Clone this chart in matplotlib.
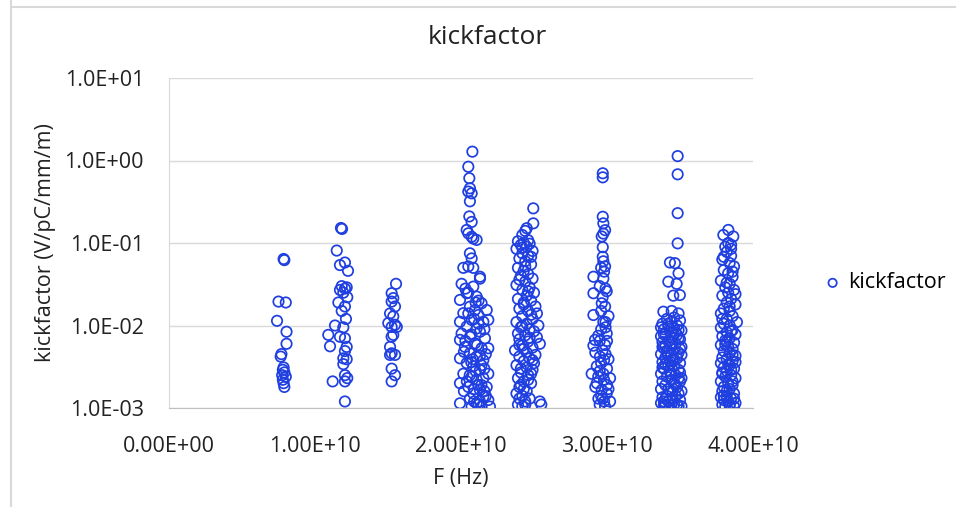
import matplotlib.pyplot as plt
from matplotlib.ticker import FuncFormatter
from matplotlib.lines import Line2D
import numpy as np

plt.rcParams['font.family'] = ['Open Sans', 'DejaVu Sans']

# frequency in GHz, kick factor in V/pC/mm/m, one pair of lists per cluster
f1 = [7.85, 7.9, 7.5, 8.0, 7.4, 8.05, 8.05, 7.7, 7.65, 7.85, 7.8, 7.9, 7.75, 8.0, 7.8, 7.85, 7.9]
k1 = [0.064, 0.062, 0.0195, 0.019, 0.0114, 0.0084, 0.006, 0.0045, 0.0042, 0.0031, 0.0029,
      0.0027, 0.0025, 0.0024, 0.0022, 0.002, 0.0018]

f2 = [11.49, 11.78, 11.85, 11.71, 12.05, 12.26, 11.83, 12.05, 11.71, 11.94, 12.17, 12.21,
      11.6, 12.05, 11.83, 12.12, 11.37, 11.94, 10.91, 11.71, 11.03, 12.05, 12.17, 12.05,
      11.94, 12.17, 11.94, 12.05, 12.21, 11.21, 12.05, 12.05]
k2 = [0.081, 0.152, 0.148, 0.054, 0.058, 0.046, 0.03, 0.028, 0.027, 0.025, 0.029, 0.022,
      0.019, 0.017, 0.015, 0.012, 0.01, 0.0095, 0.0077, 0.0073, 0.0056, 0.007, 0.0055, 0.0049,
      0.004, 0.0039, 0.0034, 0.0025, 0.0023, 0.0021, 0.0021, 0.0012]

f3 = [15.55, 15.25, 15.36, 15.25, 15.48, 15.14, 15.36, 15.02, 15.48, 15.25, 15.6, 15.36,
      15.25, 15.14, 15.25, 15.48, 15.14, 15.25, 15.48, 15.25]
k3 = [0.032, 0.0246, 0.0215, 0.0195, 0.017, 0.014, 0.0129, 0.0107, 0.0102, 0.0096, 0.0096,
      0.0077, 0.0073, 0.0055, 0.0046, 0.0044, 0.0044, 0.003, 0.0025, 0.0021]

f4 = [20.78, 20.5, 20.57, 20.61, 20.5, 20.73, 20.61, 20.57, 20.73, 20.39, 20.5, 20.73, 21.07,
      20.84, 20.61, 20.73, 20.5, 20.84, 21.3, 20.16,
      20.04, 21.3, 20.84, 20.39, 21.07, 19.93, 21.41, 20.61, 20.96, 20.16, 21.76, 21.19, 19.93,
      20.73, 21.53, 21.87, 20.39, 21.07, 20.04, 21.3, 20.61, 21.64, 19.93, 20.96, 20.27, 21.41,
      21.87, 20.61, 21.07, 19.93, 21.53, 20.39, 20.84, 21.3, 21.87, 20.16, 20.73, 21.53, 21.07,
      19.93, 20.5, 21.76, 21.3, 20.84, 21.53, 20.61, 21.87, 21.07, 21.41, 21.98, 19.93, 20.73,
      20.5, 21.2, 20.9, 21.6, 20.3, 21.1, 21.7, 20.7, 21.4, 21.0, 20.4, 21.2, 21.6, 20.9, 21.2,
      20.3, 21.0, 20.5, 21.2, 20.7, 20.2, 21.3, 20.8, 21.6, 20.6, 21.4, 20.9, 21.7, 21.3, 20.2]
k4 = [1.28, 0.84, 0.61, 0.46, 0.42, 0.40, 0.32, 0.21, 0.18, 0.144, 0.131, 0.119, 0.109,
      0.113, 0.075, 0.065, 0.052, 0.05, 0.039, 0.05,
      0.032, 0.037, 0.0296, 0.0246, 0.0224, 0.0204, 0.0186, 0.0169, 0.0154, 0.0141, 0.0154,
      0.0134, 0.0111, 0.0117, 0.0111, 0.0117, 0.0097, 0.0092, 0.008, 0.0084, 0.0073, 0.007,
      0.0067, 0.0061, 0.0055, 0.0053, 0.0053, 0.0046, 0.0042, 0.004, 0.0038, 0.0035, 0.0032,
      0.0029, 0.0026, 0.0026, 0.0024, 0.0023, 0.0022, 0.002, 0.0018, 0.0018, 0.00165, 0.0015,
      0.00137, 0.0013, 0.00125, 0.00114, 0.00104, 0.00104, 0.00114, 0.00104,
      0.025, 0.02, 0.012, 0.009, 0.0065, 0.0058, 0.0045, 0.0036, 0.0033, 0.0028, 0.0021,
      0.0019, 0.0016, 0.0012, 0.0011,
      0.028, 0.019, 0.014, 0.0105, 0.0078, 0.0048, 0.0043, 0.0039, 0.003, 0.0025, 0.0019,
      0.0017, 0.0014, 0.0012, 0.0016]

f5 = [24.95, 24.95, 24.5, 24.4, 24.2,
      23.9, 24.3, 24.7, 24.1, 24.5, 23.8, 24.9, 24.2, 24.6, 24.0, 24.4, 24.8, 23.9, 24.3, 24.6,
      24.1, 24.9, 24.4, 23.8, 24.7, 24.2, 25.0, 24.5, 23.9, 24.8, 24.3, 25.1, 24.0, 24.6, 25.2,
      24.2, 24.9, 23.8, 24.5, 25.3, 24.1, 24.7, 25.0, 23.9, 24.4, 25.2, 24.0, 24.6, 25.4, 24.2,
      24.9, 23.7, 24.5, 25.1, 24.0, 24.7, 24.3, 25.0, 23.8, 24.5, 24.9, 24.1, 24.6, 23.9, 24.3,
      24.8, 24.0, 24.5, 23.8, 24.2, 24.0, 24.4, 23.9, 24.2, 25.4, 25.5,
      24.6, 24.2, 24.8, 24.4, 24.0, 24.6, 24.3, 24.8, 24.2, 24.7, 24.3, 24.9, 24.1, 24.6, 24.3,
      24.7, 24.4, 24.1, 24.8, 24.0]
k5 = [0.263, 0.173, 0.151, 0.14, 0.125,
      0.105, 0.1, 0.098, 0.095, 0.09, 0.085, 0.08, 0.075, 0.07, 0.065, 0.06, 0.055, 0.05,
      0.046, 0.042, 0.04, 0.037, 0.034, 0.031, 0.029, 0.027, 0.025, 0.023, 0.021, 0.02, 0.018,
      0.017, 0.016, 0.015, 0.014, 0.013, 0.012, 0.011, 0.0105, 0.01, 0.0095, 0.009, 0.0085,
      0.008, 0.0076, 0.0072, 0.0068, 0.0064, 0.006, 0.0057, 0.0054, 0.005, 0.0047, 0.0044,
      0.0042, 0.004, 0.0037, 0.0035, 0.0033, 0.0031, 0.0029, 0.0027, 0.0025, 0.0023, 0.0021,
      0.002, 0.0018, 0.0016, 0.0015, 0.0014, 0.0013, 0.0012, 0.0011, 0.00105, 0.0012, 0.0011,
      0.108, 0.088, 0.068, 0.052, 0.036, 0.026, 0.019, 0.0135, 0.0098, 0.0071, 0.0052, 0.0038,
      0.003, 0.0022, 0.0017, 0.0013, 0.0011, 0.0019, 0.0026, 0.0058]

f6 = [29.71, 29.71, 29.71, 29.75, 29.87, 29.75, 29.64, 29.71, 29.71, 29.75, 29.87, 29.07,
      29.75, 29.07, 29.98, 29.64, 29.87, 29.07, 30.1, 29.75, 29.98, 29.18, 29.07, 29.87, 29.52,
      30.1, 28.95, 29.75, 30.21, 29.3, 29.64, 29.98, 29.41, 29.87, 30.21,
      29.6, 29.8, 29.5, 29.9, 29.7, 29.6, 29.9, 29.6, 29.4, 30.0, 29.7, 29.2, 29.9, 29.6, 29.3,
      30.0, 29.5, 29.8, 29.2, 30.1, 29.6, 29.8, 29.5,
      29.9, 29.5, 29.8, 29.4, 30.0, 29.7]
k6 = [0.70, 0.625, 0.208, 0.173, 0.143, 0.13, 0.12, 0.089, 0.068, 0.06, 0.052, 0.039, 0.037,
      0.0246, 0.026, 0.0186, 0.017, 0.0134, 0.013, 0.011, 0.008, 0.0067, 0.0057, 0.0058,
      0.0042, 0.0039, 0.0026, 0.0026, 0.0023, 0.002, 0.00166, 0.0015, 0.0013, 0.00104, 0.0012,
      0.05, 0.045, 0.03, 0.028, 0.022, 0.015, 0.0095, 0.009, 0.0075, 0.0065, 0.005, 0.0047,
      0.0045, 0.0035, 0.0032, 0.003, 0.0028, 0.0022, 0.0018, 0.0017, 0.0014, 0.0012, 0.0011,
      0.011, 0.0065, 0.0038, 0.0024, 0.0019, 0.0013]

f7 = [34.84, 34.84, 34.84, 34.84, 34.31, 34.65, 34.9, 34.2, 34.77, 34.99, 34.54, 33.86,
      34.43, 34.9,
      34.6, 34.1, 35.0, 34.4, 33.8, 34.8, 34.2, 34.6, 33.9, 35.1, 34.4, 34.0, 34.8, 33.7, 34.5,
      35.0, 34.2, 33.8, 34.7, 34.3, 35.1, 33.9, 34.6, 34.1, 34.9, 33.7, 34.4, 34.0, 34.8, 34.5,
      33.8, 35.0, 34.2, 34.6, 33.9, 34.9, 34.3, 33.7, 34.7, 34.1, 35.1, 34.4, 33.8, 34.6, 34.0,
      34.8, 33.7, 34.3, 34.9, 34.1, 33.8, 34.5, 35.0, 34.2, 33.7, 34.6, 34.0, 34.9, 34.3, 33.9,
      33.7, 34.9, 34.0, 35.1, 34.0, 35.0, 34.7, 35.1, 34.0, 34.8,
      34.2, 34.9, 33.9, 34.5, 35.0, 34.1, 34.6, 33.8, 34.4, 35.0, 34.2, 34.7, 33.9, 34.4, 35.1,
      34.5, 34.3, 34.7, 33.8, 34.9]
k7 = [1.13, 0.68, 0.23, 0.099, 0.058, 0.057, 0.043, 0.034, 0.032, 0.0234, 0.023, 0.0147,
      0.015, 0.014,
      0.0125, 0.012, 0.0115, 0.011, 0.0105, 0.01, 0.0097, 0.0093, 0.009, 0.0087, 0.0083,
      0.008, 0.0077, 0.0074, 0.0071, 0.0068, 0.0065, 0.0063, 0.006, 0.0058, 0.0055, 0.0053,
      0.0051, 0.0049, 0.0047, 0.0045, 0.0043, 0.0041, 0.004, 0.0038, 0.0036, 0.0035, 0.0033,
      0.0032, 0.003, 0.0029, 0.0028, 0.0026, 0.0025, 0.0024, 0.0023, 0.0022, 0.0021, 0.002,
      0.0019, 0.0018, 0.0017, 0.0016, 0.0015, 0.0014, 0.00135, 0.0013, 0.00125, 0.0012,
      0.00115, 0.0011, 0.00107, 0.00104, 0.00102, 0.0011,
      0.0095, 0.007, 0.0056, 0.0044, 0.0034, 0.0027, 0.0019, 0.0016, 0.0013, 0.0011,
      0.0105, 0.0088, 0.0078, 0.0062, 0.0052, 0.0046, 0.0039, 0.0031, 0.0026, 0.0021, 0.0017,
      0.0014, 0.0012, 0.0011, 0.00105, 0.0016, 0.0037, 0.0082, 0.0055, 0.0023]

f8 = [38.31, 37.97, 38.65, 38.3, 38.1, 38.5,
      38.2, 38.5, 37.9, 38.4, 38.7, 38.0, 38.3, 38.6, 37.8, 38.4, 38.1, 38.7, 38.3, 37.9, 38.5,
      38.2, 38.8, 38.0, 38.4, 37.8, 38.6, 38.2, 38.9, 38.0, 38.4, 37.8, 38.6, 38.2, 38.8, 37.9,
      38.4, 38.1, 38.7, 37.8, 38.3, 38.6, 38.0, 38.4, 38.8, 37.9, 38.2, 38.6, 37.8, 38.4, 38.0,
      38.7, 38.2, 37.9, 38.5, 38.1, 38.8, 37.8, 38.3, 38.6, 38.0, 38.4, 37.9, 38.7, 38.2, 37.8,
      38.5, 38.0, 38.3, 38.8, 37.9, 38.4, 38.1, 38.7,
      38.5, 38.0, 38.6, 38.2, 38.8, 38.4, 37.9, 38.5, 38.1, 38.6, 38.3, 37.9, 38.6, 38.2, 38.7,
      38.4, 38.0, 38.5, 38.2, 38.8]
k8 = [0.144, 0.125, 0.12, 0.1, 0.09, 0.085,
      0.078, 0.07, 0.063, 0.057, 0.052, 0.047, 0.043, 0.039, 0.035, 0.032, 0.029, 0.027, 0.025,
      0.023, 0.021, 0.019, 0.018, 0.016, 0.015, 0.014, 0.013, 0.012, 0.011, 0.0105, 0.01,
      0.0094, 0.0088, 0.0083, 0.0078, 0.0074, 0.007, 0.0066, 0.0062, 0.0058, 0.0055, 0.0052,
      0.0049, 0.0046, 0.0043, 0.0041, 0.0039, 0.0037, 0.0035, 0.0033, 0.0031, 0.003, 0.0028,
      0.0027, 0.0025, 0.0024, 0.0023, 0.0021, 0.002, 0.0019, 0.0018, 0.0017, 0.0016, 0.0015,
      0.0014, 0.00135, 0.0013, 0.00125, 0.0012, 0.00115, 0.0011, 0.00106, 0.00103, 0.00104,
      0.095, 0.068, 0.045, 0.033, 0.024, 0.017, 0.012, 0.0085, 0.0059, 0.0044, 0.0034, 0.0026,
      0.0021, 0.0016, 0.0013, 0.0011, 0.0014, 0.0029, 0.0064, 0.0036]

freq_ghz = f1 + f2 + f3 + f4 + f5 + f6 + f7 + f8
kick = k1 + k2 + k3 + k4 + k5 + k6 + k7 + k8

blue = '#1F3FE0'
grid = '#D9D9D9'

fig = plt.figure(figsize=(9.56, 5.07), dpi=100)
ax = fig.add_axes([169/956, 1-408/507, (753-169)/956, (408-78)/507])

ax.scatter(np.array(freq_ghz)*1e9, kick, s=56, facecolors='none', edgecolors=blue,
           linewidths=1.25, label='kickfactor', zorder=3)

ax.set_yscale('log')
ax.set_ylim(1e-3, 10)
ax.set_xlim(0, 4e10)
ax.set_xticks([0, 1e10, 2e10, 3e10, 4e10])
ax.set_yticks([1e-3, 1e-2, 1e-1, 1, 10])
ax.minorticks_off()
ax.xaxis.set_major_formatter(FuncFormatter(lambda v, p: '{:.2E}'.format(v)))
ax.yaxis.set_major_formatter(FuncFormatter(lambda v, p: '{:.1E}'.format(v)))
ax.tick_params(length=0, labelsize=15.5, colors='#222222')
ax.tick_params(axis='x', pad=20)
ax.tick_params(axis='y', pad=18)

ax.grid(axis='y', color=grid, linewidth=1.0, zorder=0)
ax.set_axisbelow(True)
for s in ['top', 'right']:
    ax.spines[s].set_visible(False)
ax.spines['left'].set_color(grid)
ax.spines['bottom'].set_color('#BFBFBF')

ax.set_xlabel('F (Hz)', fontsize=15.5, color='#222222', labelpad=8)
ax.set_ylabel('kickfactor (V/pC/mm/m)', fontsize=15.5, color='#222222', labelpad=6)
fig.text(487/956, 1-37/507, 'kickfactor', fontsize=19, ha='center', va='center', color='#222222')

fig.legend(loc='center left', bbox_to_anchor=(824/956, 1-283/507), frameon=False,
           fontsize=15.5, handlelength=0.8, handletextpad=0.3, borderpad=0,
           borderaxespad=0, markerscale=0.8)

# light frame of the chart area
fig.add_artist(Line2D([11/956, 11/956], [0, 1], color=grid, linewidth=1.5))
fig.add_artist(Line2D([11/956, 1], [1-6.5/507, 1-6.5/507], color=grid, linewidth=1.5))

fig.savefig('out.png', dpi=100)
